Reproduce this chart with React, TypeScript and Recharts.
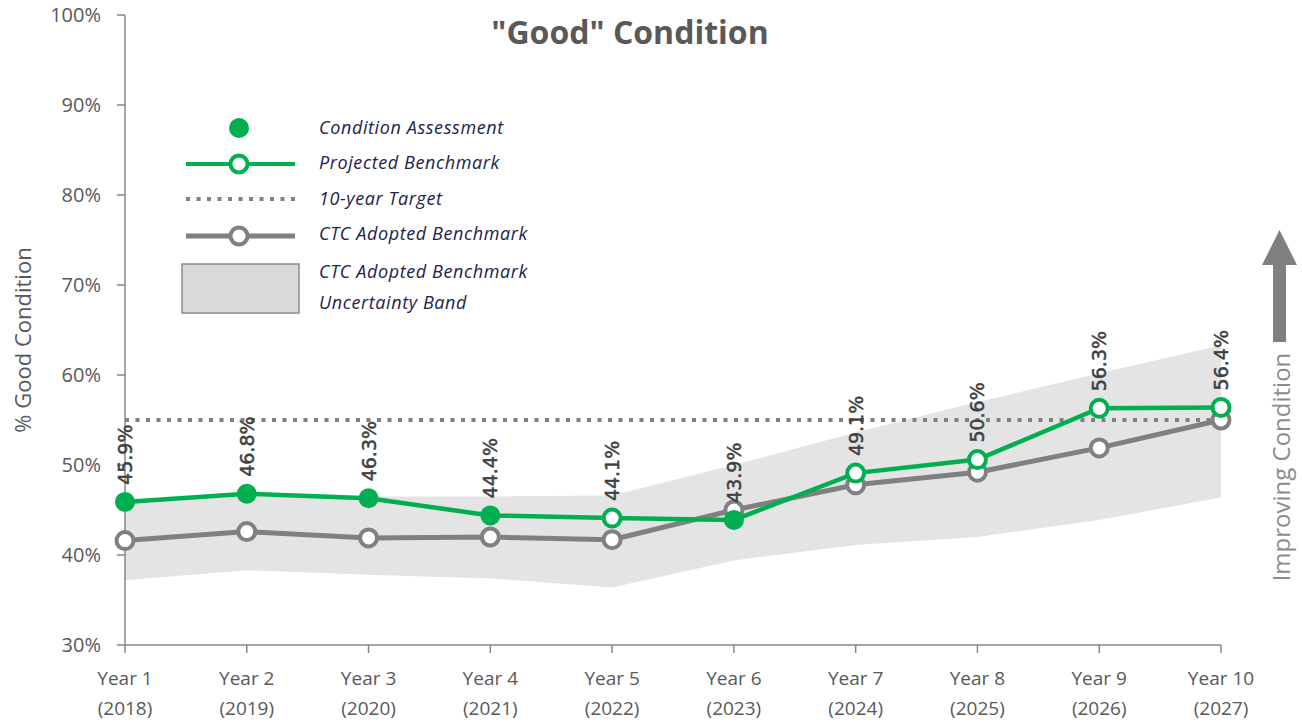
import React from 'react';
import {
  ComposedChart,
  Area,
  Line,
  XAxis,
  YAxis,
  Legend,
  LabelList,
} from 'recharts';

const years = ['Year 1', 'Year 2', 'Year 3', 'Year 4', 'Year 5', 'Year 6', 'Year 7', 'Year 8', 'Year 9', 'Year 10'];
const calendarYears = ['2018', '2019', '2020', '2021', '2022', '2023', '2024', '2025', '2026', '2027'];

const conditionAssessment = [45.9, 46.8, 46.3, 44.4, null, 43.9, null, null, null, null];
const projectedBenchmark = [null, null, null, null, 44.1, null, 49.1, 50.6, 56.3, 56.4];
const ctcAdopted = [41.6, 42.6, 41.9, 42.0, 41.7, 45.0, 47.8, 49.2, 51.9, 55.0];
const bandLow = [37.2, 38.3, 37.8, 37.4, 36.4, 39.4, 41.1, 42.0, 43.9, 46.4];
const bandHigh = [46.0, 46.5, 46.5, 46.5, 46.6, 50.0, 53.6, 57.0, 60.2, 63.3];
const tenYearTarget = 55;

const yTicks = [30, 40, 50, 60, 70, 80, 90, 100];

const GREEN = '#00B050';
const GRAY = '#808080';
const TEXT = '#595959';
const FONT = '"Open Sans", sans-serif';

const data = years.map((year, i) => ({
  year,
  assessed: conditionAssessment[i] != null,
  good: conditionAssessment[i] ?? projectedBenchmark[i],
  ctc: ctcAdopted[i],
  band: [bandLow[i], bandHigh[i]],
  target: tenYearTarget,
}));

const XTick = (props: any) => {
  const { x, y, payload, index } = props;
  return (
    <g>
      <text x={x} y={y} dy={30} textAnchor="middle" fill={TEXT} fontSize={19} fontFamily={FONT}>
        {payload.value}
      </text>
      <text x={x} y={y} dy={60} textAnchor="middle" fill={TEXT} fontSize={19} fontFamily={FONT}>
        ({calendarYears[index]})
      </text>
    </g>
  );
};

const GoodDot = (props: any) => {
  const { cx, cy, payload, index } = props;
  if (cy == null) return null;
  if (payload.assessed) {
    return <circle key={`g-${index}`} cx={cx} cy={cy} r={10} fill={GREEN} stroke="none" />;
  }
  return <circle key={`g-${index}`} cx={cx} cy={cy} r={8.5} fill="#fff" stroke={GREEN} strokeWidth={4} />;
};

const RotatedLabel = (props: any) => {
  const { x, y, value } = props;
  if (value == null) return null;
  const ly = y - 17;
  return (
    <text
      x={x}
      y={ly}
      transform={`rotate(-90 ${x} ${ly})`}
      textAnchor="start"
      dominantBaseline="central"
      fill="#404040"
      stroke="#404040"
      strokeWidth={0.5}
      fontSize={19}
      fontFamily='"DejaVu Sans", sans-serif'
    >
      {`${value.toFixed(1)}%`}
    </text>
  );
};

const legendRows = [
  'Condition Assessment',
  'Projected Benchmark',
  '10-year Target',
  'CTC Adopted Benchmark',
  'CTC Adopted Benchmark',
  'Uncertainty Band',
];
const legendRowY = [17, 52, 88, 123, 161, 192];

const LegendBox = () => (
  <svg width={420} height={210}>
    <circle cx={59} cy={18} r={10} fill={GREEN} />
    <line x1={6} x2={115} y1={54} y2={54} stroke={GREEN} strokeWidth={4} />
    <circle cx={59} cy={54} r={8.5} fill="#fff" stroke={GREEN} strokeWidth={4} />
    <line x1={6} x2={115} y1={89} y2={89} stroke={GRAY} strokeWidth={4} strokeDasharray="4 6.5" />
    <line x1={6} x2={115} y1={126} y2={126} stroke={GRAY} strokeWidth={5} />
    <circle cx={59} cy={126} r={8.5} fill="#fff" stroke={GRAY} strokeWidth={4} />
    <rect x={2} y={154} width={117} height={49} fill="#d9d9d9" stroke="#8a8a8a" strokeWidth={1.5} />
    {legendRows.map((t, i) => (
      <text
        key={i}
        x={139}
        y={legendRowY[i]}
        dominantBaseline="central"
        fontStyle="italic"
        fontSize={18}
        letterSpacing={0.6}
        fill="#22224a"
        fontFamily={FONT}
      >
        {t}
      </text>
    ))}
  </svg>
);

export default function App() {
  return (
    <div style={{ position: 'absolute', left: 0, top: 0, width: 1302, height: 726, background: '#fff' }}>
      <ComposedChart
        width={1302}
        height={726}
        data={data}
        margin={{ top: 15, right: 81, bottom: 21, left: 25 }}
      >
        <XAxis
          dataKey="year"
          scale="point"
          padding={{ left: 0, right: 0 }}
          height={60}
          tickSize={8}
          tickMargin={2}
          stroke="#878787"
          strokeWidth={1.5}
          tick={<XTick />}
          interval={0}
        />
        <YAxis
          domain={[30, 100]}
          ticks={yTicks}
          width={100}
          tickSize={8}
          tickMargin={16}
          stroke="#878787"
          strokeWidth={1.5}
          tick={{ fill: TEXT, fontSize: 20, fontFamily: FONT }}
          tickFormatter={(v: number) => `${v}%`}
        />
        <Legend
          layout="horizontal"
          verticalAlign="middle"
          align="center"
          wrapperStyle={{ left: 180, top: 110, width: 420, height: 210 }}
          content={() => <LegendBox />}
        />
        <Area
          dataKey="band"
          fill="#e4e4e4"
          fillOpacity={1}
          stroke="none"
          dot={false}
          activeDot={false}
          isAnimationActive={false}
        />
        <Line
          dataKey="target"
          stroke={GRAY}
          strokeWidth={4}
          strokeDasharray="4 6.5"
          dot={false}
          activeDot={false}
          isAnimationActive={false}
        />
        <Line
          dataKey="ctc"
          stroke={GRAY}
          strokeWidth={5}
          dot={{ r: 8.5, fill: '#fff', stroke: GRAY, strokeWidth: 4 }}
          activeDot={false}
          isAnimationActive={false}
        />
        <Line
          dataKey="good"
          stroke={GREEN}
          strokeWidth={4.5}
          dot={<GoodDot />}
          activeDot={false}
          isAnimationActive={false}
        >
          <LabelList dataKey="good" content={<RotatedLabel />} />
        </Line>
        <text
          x={630}
          y={31}
          textAnchor="middle"
          dominantBaseline="central"
          fontSize={32}
          fontWeight="bold"
          fill={TEXT}
          fontFamily={FONT}
        >
          "Good" Condition
        </text>
        <text
          x={22}
          y={340}
          transform="rotate(-90 22 340)"
          textAnchor="middle"
          dominantBaseline="central"
          fontSize={22}
          fill={TEXT}
          fontFamily={FONT}
        >
          % Good Condition
        </text>
        <g>
          <polygon points="1262,265 1279.5,230 1297,265" fill={GRAY} />
          <rect x={1273} y={264} width={13} height={78} fill={GRAY} />
          <text
            x={1280}
            y={467}
            transform="rotate(-90 1280 467)"
            textAnchor="middle"
            dominantBaseline="central"
            fontSize={24}
            fill="#8c8c8c"
            fontFamily={FONT}
          >
            Improving Condition
          </text>
        </g>
      </ComposedChart>
    </div>
  );
}
